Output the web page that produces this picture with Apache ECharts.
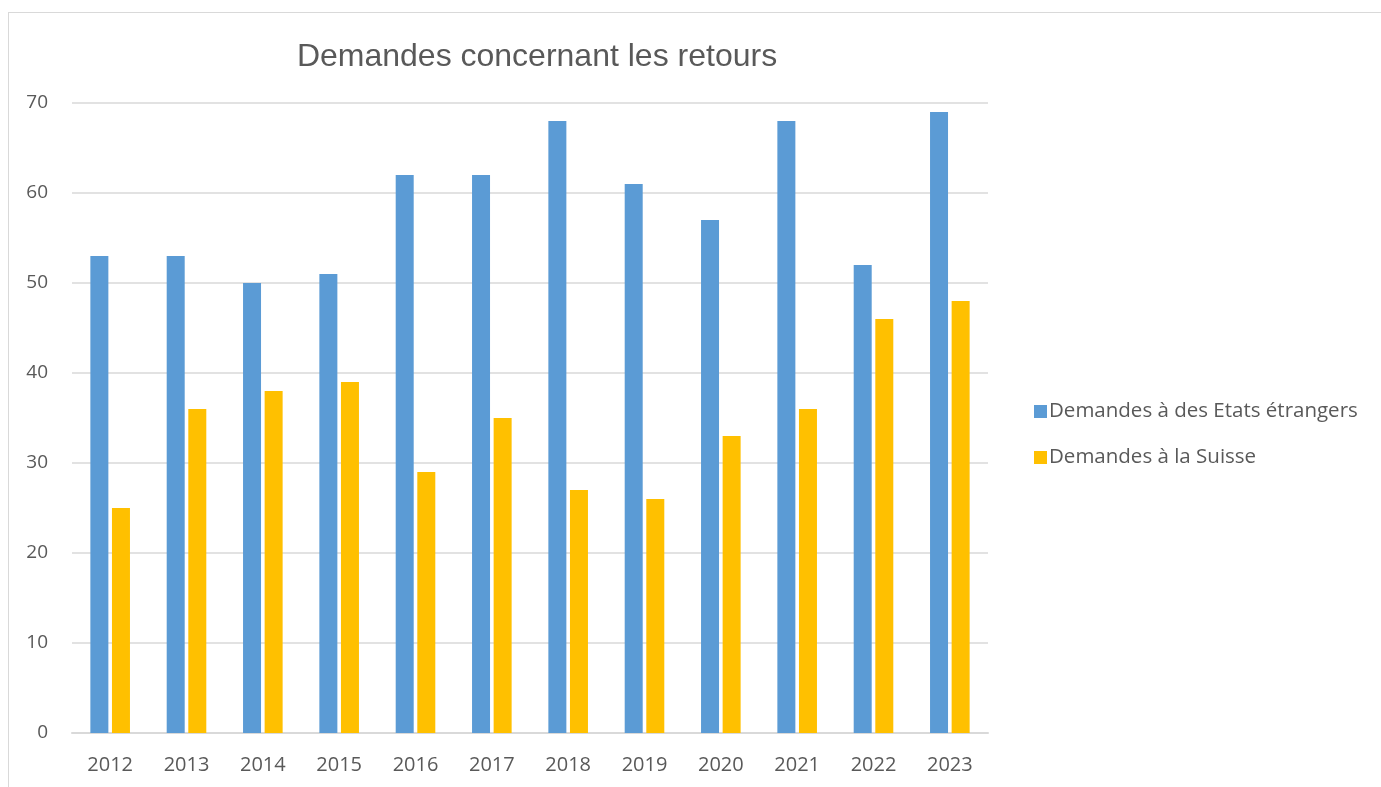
<!DOCTYPE html>
<html>
<head>
<meta charset="utf-8">
<script src="https://cdn.jsdelivr.net/npm/echarts@6/dist/echarts.min.js"></script>
<style>
    html, body { margin: 0; padding: 0; background: #fff; }
    #frame { position: absolute; left: 8px; top: 12px; width: 1400px; height: 800px; border: 1px solid #d9d9d9; box-sizing: border-box; }
    #chart { position: absolute; left: 0; top: 0; width: 1381px; height: 787px; }
</style>
</head>
<body>
<div id="frame"></div>
<div id="chart"></div>
<script>
// années
const years = ['2012', '2013', '2014', '2015', '2016', '2017', '2018', '2019', '2020', '2021', '2022', '2023'];
// Demandes à des Etats étrangers
const etatsEtrangers = [53, 53, 50, 51, 62, 62, 68, 61, 57, 68, 52, 69];
// Demandes à la Suisse
const suisse = [25, 36, 38, 39, 29, 35, 27, 26, 33, 36, 46, 48];

const labelFont = '"Open Sans", Lato, sans-serif';

const chart = echarts.init(document.getElementById('chart'));
chart.setOption({
    animation: false,
    title: {
        text: 'Demandes concernant les retours',
        left: 532,
        top: 36,
        textAlign: 'center',
        textStyle: { fontFamily: '"Liberation Sans", Arial, sans-serif', fontSize: 32, fontWeight: 'normal', color: '#595959' }
    },
    legend: {
        orient: 'vertical',
        left: 1029,
        top: 396,
        itemWidth: 13,
        itemHeight: 13,
        itemGap: 25,
        icon: 'rect',
        textStyle: { fontFamily: labelFont, fontSize: 20.5, color: '#595959', padding: [0, 0, 0, -3] }
    },
    grid: { left: 72, right: 393, top: 103, bottom: 54 },
    xAxis: {
        type: 'category',
        data: years,
        axisLine: { lineStyle: { color: '#d9d9d9', width: 2 } },
        axisTick: { show: false },
        axisLabel: { fontFamily: labelFont, fontSize: 20, color: '#595959', margin: 22 }
    },
    yAxis: {
        type: 'value',
        min: 0,
        max: 70,
        interval: 10,
        axisLine: { show: false },
        axisTick: { show: false },
        axisLabel: { fontFamily: labelFont, fontSize: 19, color: '#595959', margin: 24 },
        splitLine: { lineStyle: { color: '#d9d9d9', width: 1.5 } }
    },
    series: [
        {
            name: 'Demandes à des Etats étrangers',
            type: 'bar',
            data: etatsEtrangers,
            barWidth: 18,
            barGap: '20%',
            itemStyle: { color: '#5b9bd5' }
        },
        {
            name: 'Demandes à la Suisse',
            type: 'bar',
            data: suisse,
            barWidth: 18,
            itemStyle: { color: '#ffc000' }
        }
    ]
});
</script>
</body>
</html>
